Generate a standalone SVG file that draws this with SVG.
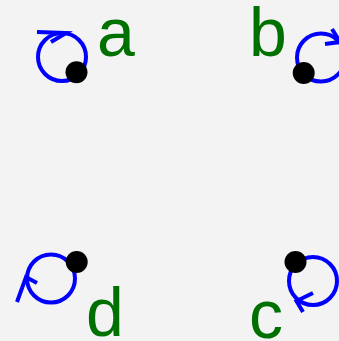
<svg xmlns="http://www.w3.org/2000/svg" width="339" height="341" viewBox="0 0 339 341">
  <style>
    .bg { fill: #f3f3f3; }
    .dot { fill: #000000; }
    .label { font-family: "Liberation Sans", Arial, sans-serif; font-size: 68px; fill: #007000; }
    .loop { fill: none; stroke: #0000ff; stroke-width: 4; stroke-linecap: butt; stroke-linejoin: miter; }
  </style>
  <rect class="bg" x="0" y="0" width="339" height="341"/>
  <g id="connectors">
    <g id="loop-a">
      <circle class="loop" cx="62" cy="57" r="24"/>
      <polyline class="loop" points="37,32 66,33 51,42"/>
    </g>
    <g id="loop-b">
      <circle class="loop" cx="321" cy="57.5" r="24"/>
      <polyline class="loop" points="332,29 340,42 325,44"/>
    </g>
    <g id="loop-c">
      <circle class="loop" cx="313" cy="281" r="24"/>
      <polyline class="loop" points="313,293 296.5,301 303,312"/>
    </g>
    <g id="loop-d">
      <circle class="loop" cx="51" cy="278.5" r="24"/>
      <polyline class="loop" points="17,302 26,277 37,283"/>
    </g>
  </g>
  <g id="node-a">
    <circle class="dot" cx="76.5" cy="72.3" r="11"/>
    <text class="label" x="97" y="56">a</text>
  </g>
  <g id="node-b">
    <circle class="dot" cx="303.7" cy="73" r="11"/>
    <text class="label" x="249" y="56">b</text>
  </g>
  <g id="node-c">
    <circle class="dot" cx="295.5" cy="262" r="11"/>
    <text class="label" x="249" y="338">c</text>
  </g>
  <g id="node-d">
    <circle class="dot" cx="76.7" cy="262" r="11"/>
    <text class="label" x="86" y="336">d</text>
  </g>
</svg>
